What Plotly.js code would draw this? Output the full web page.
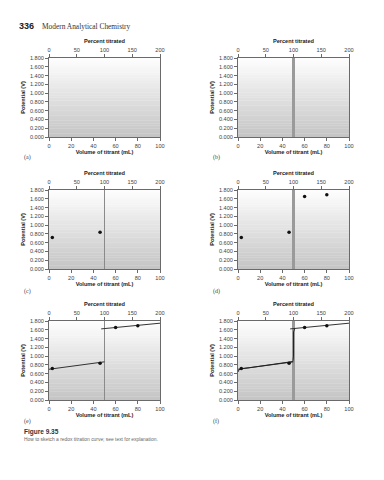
<!DOCTYPE html>
<html><head><meta charset="utf-8">
<script src="https://cdn.plot.ly/plotly-3.0.1.min.js"></script>
<style>html,body{margin:0;padding:0;background:#fff;} #chart{width:384px;height:480px;}</style>
</head><body><div id="chart"></div>
<script>
// ---- data ----
const panelLabels = ['(a)', '(b)', '(c)', '(d)', '(e)', '(f)'];
const volumeTicks = [0, 20, 40, 60, 80, 100];
const percentTicks = [0, 50, 100, 150, 200];
const potentialTicks = [0, 0.2, 0.4, 0.6, 0.8, 1.0, 1.2, 1.4, 1.6, 1.8];
const equivalenceVolume = 50;
const pointVolumeC = [3, 46];
const pointPotentialC = [0.72, 0.84];
const pointVolumeD = [3, 46, 60, 80];
const pointPotentialD = [0.72, 0.84, 1.65, 1.69];
const lowerLineVolume = [0, 50];
const lowerLinePotential = [0.70, 0.87];
const upperLineVolume = [47, 100];
const upperLinePotential = [1.62, 1.75];
const curveVolume = [0, 0.5, 1, 2, 3, 10, 20, 30, 40, 46, 48, 49, 49.6, 50, 50, 50.3, 51];
const curvePotential = [0.64, 0.67, 0.69, 0.705, 0.715, 0.735, 0.77, 0.80, 0.83, 0.85, 0.86, 0.875, 0.9, 1.0, 1.55, 1.61, 1.625];

// ---- layout geometry ----
const W = 384, H = 480;
const colX = [[49, 160], [238, 349]];
const rowY = [[58, 137], [190, 269], [321, 400]];
const labelPos = [[22, 157], [211, 157], [22, 291], [211, 291], [22, 421], [211, 421]];
const panelSpec = [
  {eq: null, pts: null, lines: false, curve: false},
  {eq: 'thick', pts: null, lines: false, curve: false},
  {eq: 'thin', pts: 'c', lines: false, curve: false},
  {eq: 'thick', pts: 'd', lines: false, curve: false},
  {eq: 'thin', pts: 'd', lines: true, curve: false},
  {eq: 'thick', pts: 'd', lines: true, curve: true}
];

const font = 'Liberation Sans, Arial, sans-serif';
const axisColor = '#6a6a6a';
const tickFont = {family: font, size: 5.6, color: '#444'};
const titleFont = {family: font, size: 5.6, color: '#222', weight: 'bold'};

const layout = {
  width: W, height: H, margin: {l: 0, r: 0, t: 0, b: 0},
  paper_bgcolor: '#fff', plot_bgcolor: 'rgba(0,0,0,0)',
  showlegend: false, shapes: [], annotations: []
};
const traces = [];

const potentialLabels = potentialTicks.map(v => v.toFixed(3));
const axId = (p, n) => n === 1 ? p : p + n;

for (let i = 0; i < 6; i++) {
  const c = i % 2, r = Math.floor(i / 2);
  const xb = axId('x', 2 * i + 1), xt = axId('x', 2 * i + 2), ya = axId('y', i + 1);
  const xbKey = axId('xaxis', 2 * i + 1), xtKey = axId('xaxis', 2 * i + 2), yKey = axId('yaxis', i + 1);
  const xd = [colX[c][0] / W, colX[c][1] / W];
  const yd = [1 - rowY[r][1] / H, 1 - rowY[r][0] / H];
  layout[xbKey] = {
    domain: xd, anchor: ya, range: [0, 100], tickvals: volumeTicks, ticktext: volumeTicks.map(String),
    showgrid: false, zeroline: false, showline: true, mirror: true, linecolor: axisColor, linewidth: 1,
    ticks: 'outside', ticklen: 3, tickcolor: axisColor, tickfont: tickFont,
    title: {text: 'Volume of titrant (mL)', font: titleFont, standoff: 2}
  };
  layout[xtKey] = {
    overlaying: xb, side: 'top', anchor: ya, range: [0, 200], tickvals: percentTicks, ticktext: percentTicks.map(String),
    showgrid: false, zeroline: false, showline: true, linecolor: axisColor, linewidth: 1,
    ticks: 'outside', ticklen: 3, tickcolor: axisColor, tickfont: tickFont,
    title: {text: 'Percent titrated', font: titleFont, standoff: 2}
  };
  layout[yKey] = {
    domain: yd, anchor: xb, range: [0, 1.8], tickvals: potentialTicks, ticktext: potentialLabels,
    showgrid: false, zeroline: false, showline: true, mirror: true, linecolor: axisColor, linewidth: 1,
    ticks: 'outside', ticklen: 3, tickcolor: axisColor, tickfont: tickFont,
    title: {text: 'Potential (V)', font: titleFont, standoff: 3}
  };
  // gradient background stripes
  const N = 48;
  for (let k = 0; k < N; k++) {
    const t = (k + 0.5) / N; // 0 bottom .. 1 top
    const g = Math.round(196 + (254 - 196) * t);
    layout.shapes.push({
      type: 'rect', xref: xb + ' domain', yref: ya + ' domain', layer: 'below',
      x0: 0, x1: 1, y0: k / N, y1: Math.min(1, (k + 1) / N + 0.004),
      line: {width: 0}, fillcolor: `rgb(${g},${g},${g})`
    });
  }
  // dummy traces so that both x axes of the panel exist
  traces.push({x: [], y: [], xaxis: xb, yaxis: ya, type: 'scatter', mode: 'markers', hoverinfo: 'skip'});
  traces.push({x: [], y: [], xaxis: xt, yaxis: ya, type: 'scatter', mode: 'markers', hoverinfo: 'skip'});

  const sp = panelSpec[i];
  if (sp.eq) {
    traces.push({
      x: [equivalenceVolume, equivalenceVolume], y: [potentialTicks[0], potentialTicks[potentialTicks.length - 1]],
      xaxis: xb, yaxis: ya, mode: 'lines', cliponaxis: false,
      line: sp.eq === 'thick' ? {color: '#9a9a9a', width: 3} : {color: '#8a8a8a', width: 1}
    });
  }
  if (sp.lines) {
    traces.push({x: lowerLineVolume, y: lowerLinePotential, xaxis: xb, yaxis: ya, mode: 'lines', line: {color: '#333', width: 1}});
    traces.push({x: upperLineVolume, y: upperLinePotential, xaxis: xb, yaxis: ya, mode: 'lines', line: {color: '#333', width: 1}});
  }
  if (sp.curve) {
    traces.push({x: curveVolume, y: curvePotential, xaxis: xb, yaxis: ya, mode: 'lines', line: {color: '#222', width: 1}});
  }
  if (sp.pts) {
    const px = sp.pts === 'c' ? pointVolumeC : pointVolumeD;
    const py = sp.pts === 'c' ? pointPotentialC : pointPotentialD;
    traces.push({x: px, y: py, xaxis: xb, yaxis: ya, mode: 'markers', marker: {color: '#111', size: 3.5, symbol: 'circle'}});
  }
  layout.annotations.push({
    xref: 'paper', yref: 'paper', x: labelPos[i][0] / W, y: 1 - labelPos[i][1] / H,
    xanchor: 'left', yanchor: 'middle', showarrow: false, text: panelLabels[i],
    font: {family: 'Liberation Serif, serif', size: 6, color: '#444'}
  });
}

layout.annotations.push(
  {xref: 'paper', yref: 'paper', x: 17 / W, y: 1 - 26 / H, xanchor: 'left', yanchor: 'middle', showarrow: false,
   text: '336', font: {family: font, size: 9, color: '#222', weight: 'bold'}},
  {xref: 'paper', yref: 'paper', x: 40 / W, y: 1 - 26.5 / H, xanchor: 'left', yanchor: 'middle', showarrow: false,
   text: 'Modern Analytical Chemistry', font: {family: 'Liberation Serif, serif', size: 7.4, color: '#333'}},
  {xref: 'paper', yref: 'paper', x: 22 / W, y: 1 - 432 / H, xanchor: 'left', yanchor: 'middle', showarrow: false,
   text: 'Figure 9.35', font: {family: font, size: 6.5, color: '#333', weight: 'bold'}},
  {xref: 'paper', yref: 'paper', x: 22 / W, y: 1 - 439.5 / H, xanchor: 'left', yanchor: 'middle', showarrow: false,
   text: 'How to sketch a redox titration curve; see text for explanation.', font: {family: font, size: 4.9, color: '#666'}}
);

Plotly.newPlot('chart', traces, layout, {staticPlot: true, displayModeBar: false});
</script></body></html>
